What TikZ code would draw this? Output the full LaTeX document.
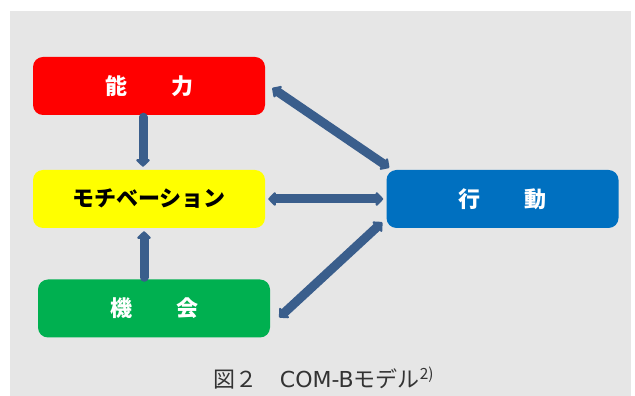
\documentclass[tikz,border=0pt]{standalone}
\usepackage{fontspec}
\setmainfont{Noto Sans CJK JP}
\newfontfamily\latinfont{DejaVu Sans}
\usepackage{tikz}
\definecolor{bggray}{HTML}{E6E6E6}
\definecolor{cred}{HTML}{FF0000}
\definecolor{cyellow}{HTML}{FFFF00}
\definecolor{cgreen}{HTML}{00B050}
\definecolor{cblue}{HTML}{0070C0}
\definecolor{carrow}{HTML}{3A5E8C}
\definecolor{ccap}{HTML}{333333}
\usetikzlibrary{arrows.meta}

\begin{document}
\begin{tikzpicture}[x=1pt,y=1pt]
    \tikzset{box/.style={
      rectangle,
      rounded corners=10pt,
      minimum width=232pt,
      minimum height=58pt,
      font=\fontsize{22}{24}\selectfont\bfseries,
      text=white,
      align=center},
      link/.style={
      draw=carrow,
      line width=9pt,
      line cap=round,
      {Triangle[width=16pt,length=8pt,round]}-{Triangle[width=16pt,length=8pt,round]}},
      onelink/.style={link,-{Triangle[width=16pt,length=8pt,round]}}}
    \useasboundingbox (0,0) rectangle (635,396);
    \fill[bggray] (10,0) rectangle (631,385);

    \node[box,fill=cred] at (149, 310) (cap) {能　　力};
    \node[box,fill=cyellow,text=black] at (149, 197) (mot) {モチベーション};
    \node[box,fill=cgreen] at (154, 87.5) (opp) {機　　会};
    \node[box,fill=cblue] at (502.5, 197) (beh) {行　　動};

    \draw[onelink,shorten <=2pt,shorten >=3pt] ([xshift=-6pt]cap.south) -- ([xshift=-6pt]mot.north);
    \draw[onelink,shorten <=2pt,shorten >=3pt] ([xshift=-10pt]opp.north) -- ([xshift=-5pt]mot.south);
    \draw[link,shorten <=3pt,shorten >=3pt] (mot.east) -- (beh.west);
    \draw[link] ([shift={(7pt,-2pt)}]cap.east) -- ([shift={(3pt,2pt)}]beh.north west);
    \draw[link] ([shift={(9pt,-9pt)}]opp.east) -- ([shift={(-4pt,6pt)}]beh.south west);

    \node[text=ccap,font=\fontsize{22}{24}\selectfont] at (324, 18) (caption) {図２　{\latinfont COM-B}モデル\textsuperscript{2)}};
  \end{tikzpicture}
\end{document}
